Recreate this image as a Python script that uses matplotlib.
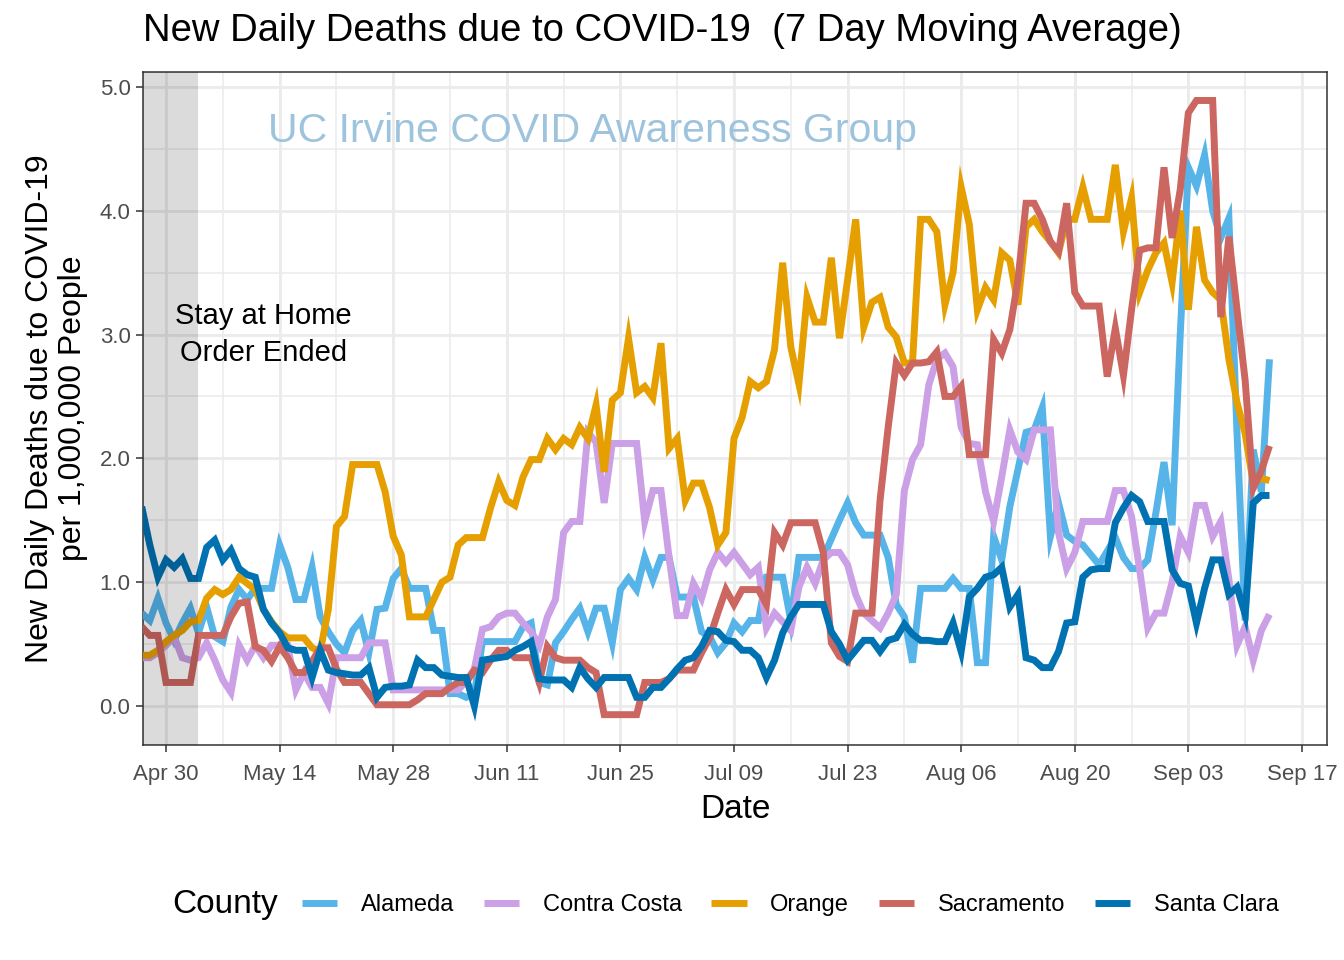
import matplotlib
matplotlib.use("Agg")
import matplotlib.pyplot as plt
import numpy as np
import pandas as pd

plt.rcParams['font.family'] = ['Liberation Sans', 'DejaVu Sans']

start_date = "2020-04-27"
n_days = 140

alameda = [0.75, 0.69, 0.87, 0.67, 0.53, 0.67, 0.79, 0.59, 0.80, 0.56,
           0.52, 0.80, 0.94, 0.86, 0.95, 0.95, 0.95, 1.30, 1.12, 0.86,
           0.86, 1.12, 0.72, 0.60, 0.50, 0.43, 0.61, 0.69, 0.43, 0.78,
           0.79, 1.03, 1.11, 0.95, 0.95, 0.95, 0.61, 0.61, 0.10, 0.10,
           0.07, 0.10, 0.52, 0.52, 0.52, 0.52, 0.52, 0.64, 0.67, 0.19,
           0.17, 0.51, 0.60, 0.70, 0.79, 0.60, 0.79, 0.79, 0.51, 0.94,
           1.03, 0.94, 1.20, 1.02, 1.20, 1.20, 0.88, 0.88, 0.88, 0.60,
           0.56, 0.43, 0.51, 0.67, 0.60, 0.69, 0.69, 1.04, 1.04, 1.04,
           0.69, 1.20, 1.20, 1.20, 1.20, 1.35, 1.50, 1.64, 1.48, 1.38,
           1.38, 1.38, 1.20, 0.82, 0.72, 0.35, 0.95, 0.95, 0.95, 0.95,
           1.03, 0.95, 0.95, 0.35, 0.35, 1.37, 1.18, 1.61, 1.91, 2.21,
           2.23, 2.41, 1.37, 1.64, 1.38, 1.33, 1.30, 1.22, 1.14, 1.25,
           1.36, 1.20, 1.11, 1.11, 1.18, 1.56, 1.97, 1.46, 3.00, 4.35,
           4.20, 4.45, 4.00, 3.78, 3.94, 2.20, 0.69, 2.07, 1.73, 2.80]

contra_costa = [0.39, 0.39, 0.43, 0.49, 0.56, 0.39, 0.37, 0.39, 0.51, 0.37,
                0.21, 0.11, 0.49, 0.37, 0.49, 0.39, 0.49, 0.49, 0.49, 0.13,
                0.27, 0.15, 0.15, 0.02, 0.39, 0.39, 0.39, 0.39, 0.51, 0.51,
                0.51, 0.13, 0.13, 0.13, 0.13, 0.13, 0.13, 0.13, 0.13, 0.13,
                0.20, 0.30, 0.62, 0.64, 0.72, 0.75, 0.75, 0.67, 0.60, 0.49,
                0.72, 0.86, 1.40, 1.49, 1.49, 2.21, 2.13, 1.64, 2.12, 2.12,
                2.12, 2.12, 1.49, 1.74, 1.74, 1.20, 0.73, 0.73, 0.99, 0.87,
                1.10, 1.24, 1.16, 1.24, 1.15, 1.06, 1.12, 0.63, 0.75, 0.68,
                0.61, 0.96, 1.12, 0.99, 1.18, 1.24, 1.24, 1.14, 0.90, 0.75,
                0.69, 0.63, 0.75, 0.90, 1.74, 1.99, 2.11, 2.59, 2.80, 2.85,
                2.74, 2.25, 2.12, 2.11, 1.73, 1.49, 1.85, 2.23, 2.05, 1.99,
                2.23, 2.23, 2.23, 1.40, 1.11, 1.24, 1.49, 1.49, 1.49, 1.49,
                1.74, 1.74, 1.53, 1.10, 0.63, 0.75, 0.75, 1.00, 1.37, 1.24,
                1.62, 1.62, 1.37, 1.49, 1.02, 0.49, 0.64, 0.37, 0.61, 0.74]

orange = [0.41, 0.41, 0.45, 0.52, 0.57, 0.61, 0.68, 0.69, 0.87, 0.94,
          0.90, 0.94, 1.04, 0.99, 0.94, 0.78, 0.68, 0.60, 0.55, 0.55,
          0.55, 0.47, 0.44, 0.78, 1.45, 1.53, 1.95, 1.95, 1.95, 1.95,
          1.73, 1.37, 1.22, 0.72, 0.72, 0.72, 0.86, 1.00, 1.04, 1.30,
          1.36, 1.36, 1.36, 1.60, 1.81, 1.66, 1.62, 1.85, 1.99, 1.99,
          2.16, 2.07, 2.16, 2.11, 2.25, 2.16, 2.43, 1.89, 2.47, 2.53,
          2.97, 2.53, 2.58, 2.49, 2.93, 2.08, 2.16, 1.66, 1.80, 1.80,
          1.60, 1.30, 1.40, 2.16, 2.33, 2.62, 2.57, 2.62, 2.88, 3.58,
          2.90, 2.60, 3.30, 3.10, 3.10, 3.62, 2.97, 3.44, 3.93, 3.06,
          3.26, 3.30, 3.06, 2.98, 2.77, 2.77, 3.93, 3.93, 3.83, 3.24,
          3.50, 4.19, 3.89, 3.20, 3.38, 3.28, 3.66, 3.60, 3.24, 3.87,
          3.93, 3.83, 3.75, 3.66, 3.93, 3.93, 4.19, 3.93, 3.93, 3.93,
          4.37, 3.83, 4.10, 3.34, 3.52, 3.66, 3.74, 3.42, 4.00, 3.20,
          3.87, 3.44, 3.34, 3.28, 2.80, 2.45, 2.20, 1.80, 1.84, 1.82]

sacramento = [0.64, 0.57, 0.57, 0.19, 0.19, 0.19, 0.19, 0.57, 0.57, 0.57,
              0.57, 0.72, 0.83, 0.84, 0.48, 0.45, 0.36, 0.48, 0.39, 0.27,
              0.27, 0.36, 0.47, 0.47, 0.30, 0.19, 0.19, 0.19, 0.10, 0.01,
              0.01, 0.01, 0.01, 0.01, 0.05, 0.10, 0.10, 0.10, 0.15, 0.19,
              0.19, 0.29, 0.27, 0.37, 0.45, 0.45, 0.39, 0.39, 0.39, 0.19,
              0.48, 0.39, 0.37, 0.37, 0.37, 0.31, 0.27, -0.07, -0.07, -0.07,
              -0.07, -0.07, 0.19, 0.19, 0.19, 0.22, 0.29, 0.29, 0.29, 0.43,
              0.55, 0.75, 0.94, 0.82, 0.94, 0.94, 0.94, 0.82, 1.40, 1.30,
              1.48, 1.48, 1.48, 1.48, 1.24, 0.51, 0.40, 0.36, 0.75, 0.75,
              0.75, 1.66, 2.25, 2.77, 2.67, 2.77, 2.77, 2.78, 2.86, 2.50,
              2.50, 2.58, 2.03, 2.03, 2.03, 2.96, 2.85, 3.04, 3.44, 4.06,
              4.06, 3.93, 3.75, 3.67, 4.06, 3.34, 3.23, 3.23, 3.23, 2.66,
              3.05, 2.67, 3.20, 3.68, 3.70, 3.70, 4.35, 3.78, 4.17, 4.79,
              4.89, 4.89, 4.89, 3.14, 3.79, 3.20, 2.63, 1.76, 1.90, 2.10]

santa_clara = [1.61, 1.30, 1.04, 1.18, 1.12, 1.19, 1.03, 1.03, 1.28, 1.34,
               1.18, 1.26, 1.11, 1.06, 1.04, 0.78, 0.67, 0.59, 0.47, 0.45,
               0.45, 0.23, 0.45, 0.29, 0.27, 0.26, 0.25, 0.25, 0.31, 0.07,
               0.15, 0.16, 0.16, 0.17, 0.37, 0.31, 0.31, 0.25, 0.24, 0.23,
               0.23, 0.00, 0.37, 0.38, 0.39, 0.40, 0.45, 0.48, 0.52, 0.22,
               0.21, 0.21, 0.21, 0.15, 0.31, 0.22, 0.15, 0.23, 0.23, 0.23,
               0.23, 0.07, 0.07, 0.15, 0.15, 0.22, 0.30, 0.37, 0.39, 0.48,
               0.61, 0.60, 0.53, 0.52, 0.45, 0.45, 0.39, 0.23, 0.37, 0.59,
               0.72, 0.82, 0.82, 0.82, 0.82, 0.60, 0.50, 0.37, 0.45, 0.53,
               0.53, 0.44, 0.53, 0.55, 0.66, 0.58, 0.53, 0.53, 0.52, 0.52,
               0.67, 0.44, 0.88, 0.95, 1.04, 1.06, 1.12, 0.80, 0.90, 0.39,
               0.37, 0.31, 0.31, 0.44, 0.67, 0.68, 1.04, 1.10, 1.11, 1.11,
               1.48, 1.60, 1.70, 1.65, 1.49, 1.49, 1.49, 1.10, 0.99, 0.97,
               0.67, 0.95, 1.18, 1.18, 0.90, 0.96, 0.74, 1.64, 1.70, 1.70]

counties = ["Alameda", "Contra Costa", "Orange", "Sacramento", "Santa Clara"]
series = [alameda, contra_costa, orange, sacramento, santa_clara]
colors = ["#56B4E9", "#CBA0E6", "#E69F00", "#CC6660", "#0072B2"]

tick_labels = ["Apr 30", "May 14", "May 28", "Jun 11", "Jun 25", "Jul 09",
               "Jul 23", "Aug 06", "Aug 20", "Sep 03", "Sep 17"]

dates = pd.date_range(start_date, periods=n_days, freq="D")
t0 = pd.Timestamp(start_date)

fig = plt.figure(figsize=(13.44, 9.6), dpi=100)
ax = fig.add_axes([143/1344, 1-745/960, (1327-143)/1344, (745-72)/960])

# grid
major_x = pd.date_range("2020-04-30", periods=11, freq="14D")
minor_x = pd.date_range("2020-04-23", periods=23, freq="7D")
for d in minor_x:
    ax.axvline(d, color="#EBEBEB", lw=1.1, zorder=0)
for d in major_x:
    ax.axvline(d, color="#EBEBEB", lw=2.0, zorder=0)
for v in np.arange(-0.5, 5.6, 1.0):
    ax.axhline(v, color="#EBEBEB", lw=1.1, zorder=0)
for v in np.arange(0, 5.1, 1.0):
    ax.axhline(v, color="#EBEBEB", lw=2.0, zorder=0)

handles = []
for name, vals, c in zip(counties, series, colors):
    h, = ax.plot(dates, vals, color=c, lw=5, label=name, zorder=3,
                 solid_joinstyle="miter", solid_capstyle="butt")
    handles.append(h)

# shaded stay-at-home region
ax.axvspan(t0, pd.Timestamp("2020-05-04"), color="black", alpha=0.14,
           lw=0, zorder=4)

ax.set_xlim(t0 + pd.Timedelta(days=0.16), t0 + pd.Timedelta(days=146.09))
ax.set_ylim(-0.315, 5.12)

ax.set_xticks(major_x)
ax.set_xticklabels(tick_labels)
ax.set_yticks(np.arange(0, 5.1, 1.0))
ax.set_yticklabels([f"{v:.1f}" for v in np.arange(0, 5.1, 1.0)])
ax.tick_params(axis="both", colors="#333333", labelcolor="#4D4D4D",
               labelsize=16, length=5, width=1.1)
ax.tick_params(axis="x", pad=9)
ax.tick_params(axis="y", pad=4)
for s in ax.spines.values():
    s.set_color("#333333")
    s.set_linewidth(1.1)

ax.text(t0 + pd.Timedelta(days=15), 3.0, "Stay at Home\nOrder Ended",
        ha="center", va="center", fontsize=21, color="black",
        linespacing=1.4, zorder=5)
ax.text(t0 + pd.Timedelta(days=55.5), 4.64, "UC Irvine COVID Awareness Group",
        ha="center", va="center", fontsize=29.5, color="#9DC3DD", zorder=1)

ax.set_xlabel("Date", fontsize=24, labelpad=6)
ax.set_ylabel("New Daily Deaths due to COVID-19\nper 1,000,000 People",
              fontsize=23, labelpad=8, linespacing=1.15)

fig.text(143/1344, 1-31/960, "New Daily Deaths due to COVID-19  (7 Day Moving Average)",
         fontsize=27.5, ha="left", va="center")

fig.text(172/1344, 1-904/960, "County", fontsize=24, ha="left", va="center")
leg = fig.legend(handles=handles, labels=counties, loc="center",
                 bbox_to_anchor=(790/1344, 1-905/960), ncol=5, frameon=False,
                 fontsize=17, handlelength=1.5, columnspacing=1.25,
                 handletextpad=1.0)
for lh in leg.get_lines():
    lh.set_linewidth(5)

fig.savefig("out.png", dpi=100)
